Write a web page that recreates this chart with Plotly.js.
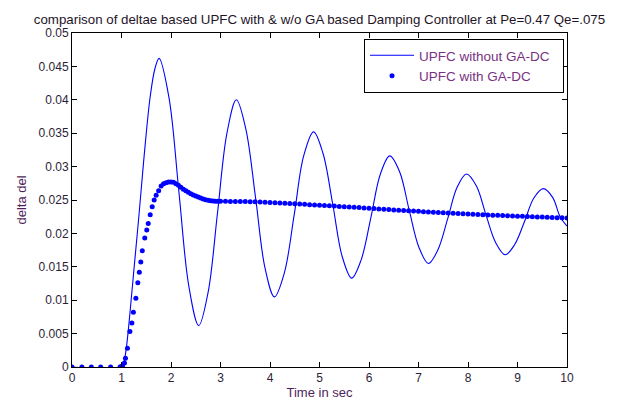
<!DOCTYPE html>
<html>
<head>
<meta charset="utf-8">
<script src="https://cdn.plot.ly/plotly-3.0.1.min.js"></script>
<style>html,body{margin:0;padding:0;background:#fff;}#chart{width:630px;height:403px;}</style>
</head>
<body>
<div id="chart"></div>
<script>
// Series 1: UPFC without GA-DC (time in sec, delta del)
const tNoGA = [0, 1.0, 1.05, 1.1, 1.17, 1.25, 1.35, 1.45, 1.58, 1.68,
  1.76, 1.96, 2.16, 2.36, 2.56, 2.75, 2.94, 3.13, 3.32, 3.51,
  3.71, 3.90, 4.09, 4.29, 4.49, 4.68, 4.88, 5.07, 5.27, 5.46,
  5.65, 5.84, 6.04, 6.23, 6.42, 6.62, 6.81, 7.01, 7.2, 7.39,
  7.59, 7.78, 7.97, 8.17, 8.36, 8.56, 8.75, 8.94, 9.14, 9.33,
  9.52, 9.71, 9.86, 10.0];
const vNoGA = [0, 0, 0.0008, 0.003, 0.008, 0.0145, 0.0225, 0.031, 0.0405, 0.0448,
  0.0462, 0.0403, 0.0262, 0.0121, 0.0062, 0.0112, 0.0231, 0.0350, 0.0400, 0.0357,
  0.02525, 0.0148, 0.0105, 0.0141, 0.02285, 0.0316, 0.0352, 0.0320, 0.02425, 0.0165,
  0.0133, 0.0160, 0.02245, 0.0289, 0.0316, 0.0292, 0.02355, 0.0179, 0.0155, 0.0175,
  0.0222, 0.0269, 0.0289, 0.0271, 0.02285, 0.0186, 0.0168, 0.0183, 0.02175, 0.0253,
  0.0267, 0.0254, 0.0225, 0.0211];

// Series 2: UPFC with GA-DC (time in sec, delta del)
const tGA = [0, 0.2, 0.39, 0.58, 0.78, 0.97, 0.99, 1.02, 1.06, 1.08,
  1.12, 1.17, 1.21, 1.24, 1.29, 1.33, 1.36, 1.39, 1.42, 1.47,
  1.51, 1.54, 1.58, 1.62, 1.66, 1.70, 1.75, 1.80, 1.85, 1.90,
  1.95, 2.00, 2.05, 2.10, 2.15, 2.20, 2.25, 2.30, 2.35, 2.40,
  2.45, 2.50, 2.55, 2.60, 2.65, 2.70, 2.75, 2.80, 2.85, 2.90,
  2.95, 3.00, 3.1, 3.2, 3.3, 3.4, 3.5, 3.6, 3.7, 3.8,
  3.9, 4.0, 4.1, 4.2, 4.3, 4.4, 4.5, 4.6, 4.7, 4.8,
  4.9, 5.0, 5.1, 5.2, 5.3, 5.4, 5.5, 5.6, 5.7, 5.8,
  5.9, 6.0, 6.1, 6.2, 6.3, 6.4, 6.5, 6.6, 6.7, 6.8,
  6.9, 7.0, 7.1, 7.2, 7.3, 7.4, 7.5, 7.6, 7.7, 7.8,
  7.9, 8.0, 8.1, 8.2, 8.3, 8.4, 8.5, 8.6, 8.7, 8.8,
  8.9, 9.0, 9.1, 9.2, 9.3, 9.4, 9.5, 9.6, 9.7, 9.8,
  9.9, 10.0];
const vGA = [0, 0, 0, 0, 0, 0, 0.00005, 0.00015, 0.0006, 0.0013,
  0.0028, 0.0053, 0.0066, 0.0082, 0.0103, 0.0126, 0.0142, 0.0157, 0.0174, 0.0193,
  0.0205, 0.0215, 0.0228, 0.0240, 0.0250, 0.0257, 0.0264, 0.0271, 0.02745, 0.02760,
  0.02768, 0.02770, 0.02765, 0.02745, 0.02720, 0.02690, 0.02660, 0.02640, 0.02615, 0.02595,
  0.02575, 0.02560, 0.02545, 0.02530, 0.02515, 0.02505, 0.02497, 0.02490, 0.02485, 0.02482,
  0.02480, 0.02480, 0.02480, 0.02479, 0.02479, 0.02478, 0.02477, 0.02475, 0.02472, 0.02469,
  0.02466, 0.02462, 0.02458, 0.02454, 0.02451, 0.02447, 0.02443, 0.02439, 0.02435, 0.02430,
  0.02426, 0.02422, 0.02418, 0.02413, 0.02409, 0.02404, 0.02400, 0.02395, 0.02390, 0.02386,
  0.02381, 0.02376, 0.02371, 0.02366, 0.02362, 0.02357, 0.02352, 0.02348, 0.02343, 0.02339,
  0.02334, 0.02330, 0.02325, 0.02321, 0.02317, 0.02312, 0.02308, 0.02304, 0.02301, 0.02297,
  0.02294, 0.02290, 0.02287, 0.02283, 0.02280, 0.02276, 0.02273, 0.02270, 0.02267, 0.02264,
  0.02261, 0.02258, 0.02255, 0.02252, 0.02250, 0.02247, 0.02244, 0.02241, 0.02238, 0.02236,
  0.02233, 0.02230];

// Axis ticks
const xTickVals = [0, 1, 2, 3, 4, 5, 6, 7, 8, 9, 10];
const xTickText = ['0', '1', '2', '3', '4', '5', '6', '7', '8', '9', '10'];
const yTickVals = [0, 0.005, 0.01, 0.015, 0.02, 0.025, 0.03, 0.035, 0.04, 0.045, 0.05];
const yTickText = ['0', '0.005', '0.01', '0.015', '0.02', '0.025', '0.03', '0.035', '0.04', '0.045', '0.05'];

const seriesNames = ['UPFC without GA-DC', 'UPFC with GA-DC'];

const FONT = 'Liberation Sans, Arial, sans-serif';
const txt = 'rgb(45,30,55)';
const pad = '\u00a0\u00a0';

const traces = [
  {
    x: tNoGA, y: vNoGA, name: seriesNames[0] + pad, type: 'scatter', mode: 'lines',
    line: {color: 'rgb(0,0,255)', width: 1.1, shape: 'spline', smoothing: 1}
  },
  {
    x: tGA, y: vGA, name: seriesNames[1] + pad, type: 'scatter', mode: 'markers',
    marker: {color: 'rgb(0,0,255)', size: 5, line: {width: 0}}
  }
];

const axisCommon = {
  showline: true, linecolor: '#000', linewidth: 1, mirror: 'ticks',
  ticks: 'inside', ticklen: 5, tickcolor: '#000', tickwidth: 1,
  showgrid: false, zeroline: false, automargin: false,
  tickfont: {family: FONT, size: 12, color: txt}
};

const layout = {
  width: 630, height: 403,
  paper_bgcolor: '#fff', plot_bgcolor: '#fff',
  margin: {l: 72, r: 63, t: 33, b: 36},
  font: {family: FONT, color: txt},
  title: {
    text: 'comparison of deltae based UPFC with & w/o GA based Damping Controller at Pe=0.47 Qe=.075',
    font: {family: FONT, size: 13.3, color: 'rgb(30,20,40)'},
    x: 0.5, xref: 'paper', y: 0.952, yref: 'container', yanchor: 'middle'
  },
  xaxis: Object.assign({}, axisCommon, {
    range: [0, 10], tickmode: 'array', tickvals: xTickVals, ticktext: xTickText,
    title: {text: 'Time in sec', font: {family: FONT, size: 13, color: 'rgb(80,30,90)'}, standoff: 3}
  }),
  yaxis: Object.assign({}, axisCommon, {
    range: [0, 0.05], tickmode: 'array', tickvals: yTickVals, ticktext: yTickText,
    title: {text: 'delta del', font: {family: FONT, size: 13, color: 'rgb(80,30,90)'}, standoff: 9}
  }),
  showlegend: true,
  legend: {
    x: 0.994, xanchor: 'right', y: 0.982, yanchor: 'top',
    bgcolor: '#fff', bordercolor: '#000', borderwidth: 1,
    font: {family: FONT, size: 13.5, color: 'rgb(120,50,130)'},
    tracegroupgap: 0, itemwidth: 44
  }
};

Plotly.newPlot('chart', traces, layout, {displayModeBar: false, staticPlot: true});
</script>
</body>
</html>
